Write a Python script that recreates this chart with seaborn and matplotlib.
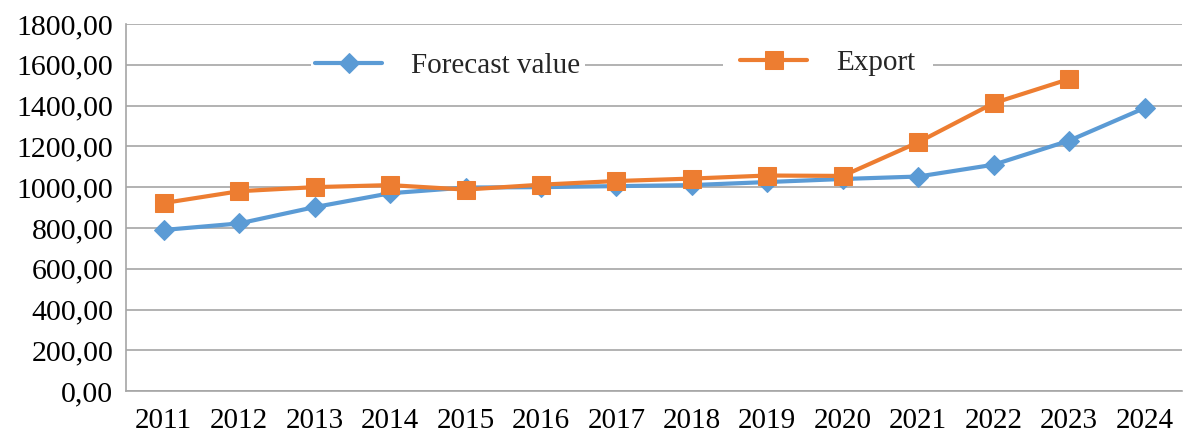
import numpy as np
import pandas as pd
import seaborn as sns
import matplotlib.pyplot as plt
from matplotlib.ticker import FuncFormatter, MultipleLocator, FixedLocator

years = list(range(2011, 2025))
forecast = [790, 822, 902, 970, 998, 1000, 1005, 1010, 1025, 1040, 1052, 1110, 1228, 1388]
export = [922, 980, 1000, 1010, 988, 1012, 1030, 1042, 1057, 1055, 1220, 1412, 1530, np.nan]

df = pd.DataFrame({'year': years, 'Forecast value': forecast, 'Export': export})

sns.set_style('white')
plt.rcParams['font.family'] = ['Liberation Serif', 'DejaVu Serif']

fig = plt.figure(figsize=(11.95, 4.36), dpi=100)
ax = fig.add_axes([0.1054, 0.103, 0.884, 0.842])

blue = '#5B9BD5'
orange = '#ED7D31'
grid_c = '#A6A6A6'

sns.lineplot(x='year', y='Forecast value', data=df, ax=ax, color=blue, linewidth=3,
             marker='D', markersize=10, markeredgecolor=blue, label='Forecast value')
sns.lineplot(x='year', y='Export', data=df, ax=ax, color=orange, linewidth=3,
             marker='s', markersize=12.5, markeredgecolor=orange, label='Export')

ax.set_xlim(2010.5, 2024.5)
ax.set_ylim(0, 1800)
ax.yaxis.set_major_locator(MultipleLocator(200))
ax.yaxis.set_major_formatter(FuncFormatter(lambda v, p: f'{v:.2f}'.replace('.', ',')))
ax.xaxis.set_major_locator(FixedLocator(years))
ax.xaxis.set_minor_locator(FixedLocator([y - 0.5 for y in years] + [2024.5]))
ax.set_xticklabels([str(y) for y in years])

ax.grid(axis='y', color=grid_c, linewidth=1.2)
ax.set_axisbelow(True)
for s in ['top', 'right']:
    ax.spines[s].set_visible(False)
for s in ['left', 'bottom']:
    ax.spines[s].set_color(grid_c)
    ax.spines[s].set_linewidth(1.2)

ax.tick_params(axis='x', which='major', length=0, labelsize=21, pad=12, colors='black')
ax.tick_params(axis='x', which='minor', length=7, width=1.2, color=grid_c, direction='out')
ax.tick_params(axis='y', which='major', length=6, width=1.2, color=grid_c, labelsize=21.5,
               labelcolor='black', pad=3)
ax.set_xlabel('')
ax.set_ylabel('')

# two separate legend boxes like the original
h, l = ax.get_legend_handles_labels()
ax.get_legend().remove()
leg1 = ax.legend([h[0]], [l[0]], loc='center left', bbox_to_anchor=(0.175, 0.885),
                 frameon=True, facecolor='white', edgecolor='none', framealpha=1,
                 fontsize=21, handlelength=2.3, borderaxespad=0, borderpad=0.15, handletextpad=1.0)
ax.add_artist(leg1)
ax.legend([h[1]], [l[1]], loc='center left', bbox_to_anchor=(0.565, 0.895),
          frameon=True, facecolor='white', edgecolor='none', framealpha=1,
          fontsize=21, handlelength=2.3, borderaxespad=0, borderpad=0.6, handletextpad=1.0)

plt.savefig('out.png', dpi=100)
plt.close()
